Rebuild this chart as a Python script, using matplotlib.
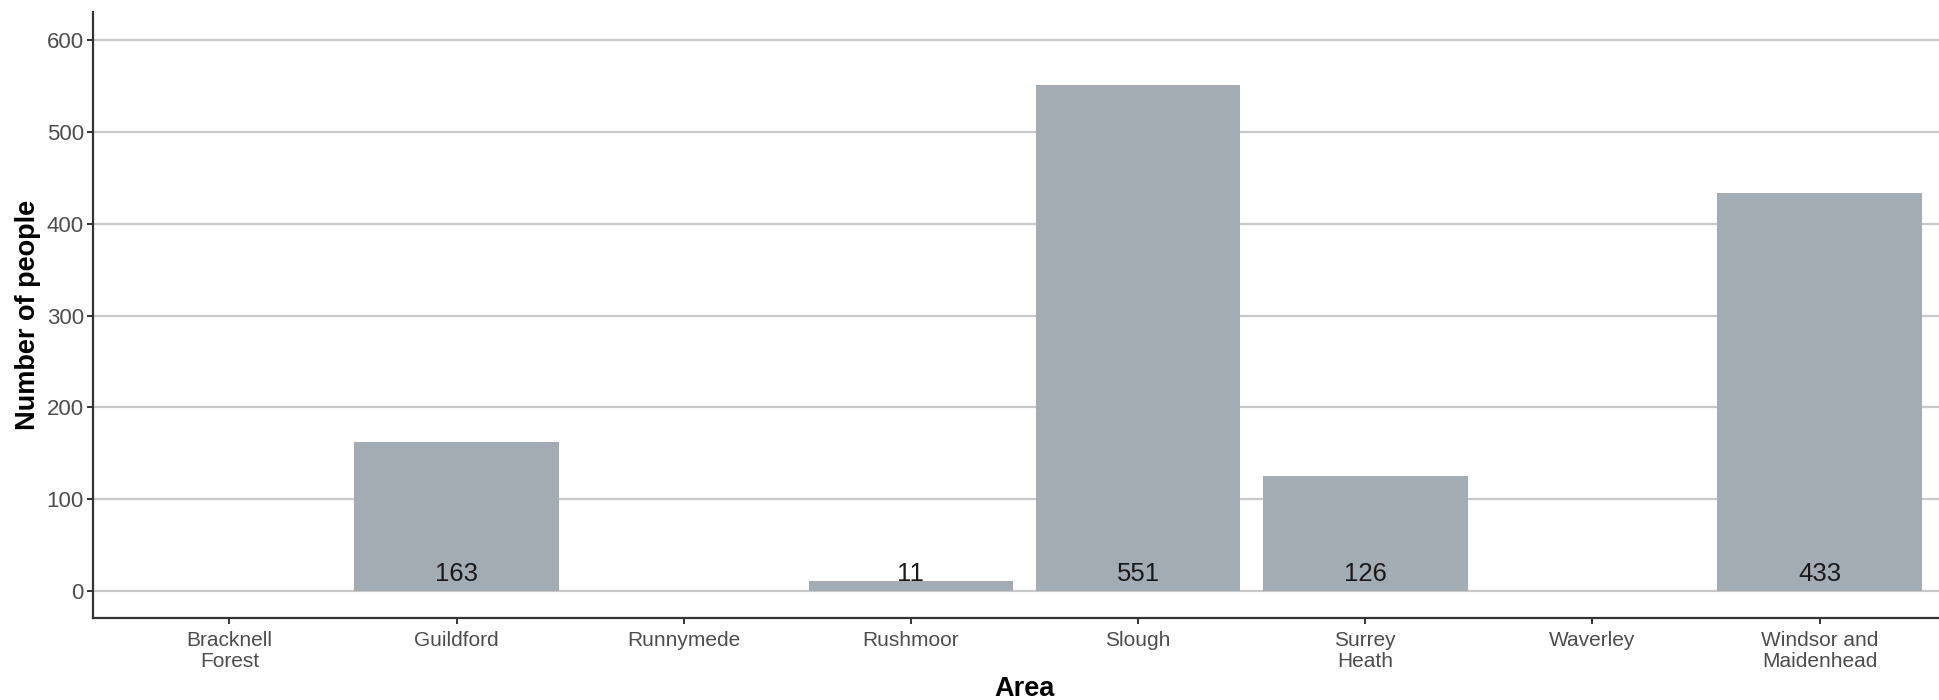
import numpy as np
from matplotlib import pyplot as plt

# Data
areas = ["Bracknell\nForest", "Guildford", "Runnymede", "Rushmoor", "Slough",
         "Surrey\nHeath", "Waverley", "Windsor and\nMaidenhead"]
people = [0, 163, 0, 11, 551, 126, 0, 433]
y_ticks = [0, 100, 200, 300, 400, 500, 600]

plt.rcParams['font.family'] = ['Liberation Sans', 'DejaVu Sans']

fig = plt.figure(figsize=(19.39, 7.0), dpi=100)
# axes runs slightly past the right edge, like the cropped original
ax = fig.add_axes([93 / 1939, 1 - 618 / 700, (1956 - 93) / 1939, (618 - 12) / 700])

x = np.arange(len(areas))
ax.bar(x, people, width=0.9, color='#A4ACB3', zorder=2)

# value labels near the base of each bar
for i, v in enumerate(people):
    if v > 0:
        ax.annotate(str(v), xy=(i, 0), xytext=(0, 7.5), textcoords='offset points',
                    ha='center', va='baseline', fontsize=18.5, color='#1a1a1a', zorder=3)

ax.set_xlim(-0.6, 7.6)
ax.set_ylim(-28.9, 630)
ax.set_yticks(y_ticks)
ax.set_xticks(x)
ax.set_xticklabels(areas, linespacing=1.15)

# horizontal gridlines only
ax.yaxis.grid(True, color='#C8C8C8', linewidth=1.6, zorder=0)
ax.set_axisbelow(True)

for side in ['top', 'right']:
    ax.spines[side].set_visible(False)
for side in ['left', 'bottom']:
    ax.spines[side].set_color('#333333')
    ax.spines[side].set_linewidth(1.6)

ax.tick_params(axis='both', colors='#333333', length=4, width=1.4,
               labelsize=15, labelcolor='#4D4D4D')
ax.tick_params(axis='x', pad=5)
ax.tick_params(axis='y', labelsize=16, pad=2.5)

ax.set_xlabel("Area", fontsize=19.5, fontweight='bold', labelpad=4)
ax.set_ylabel("Number of people", fontsize=19.5, fontweight='bold', labelpad=4)

fig.savefig("out.png", dpi=100)
